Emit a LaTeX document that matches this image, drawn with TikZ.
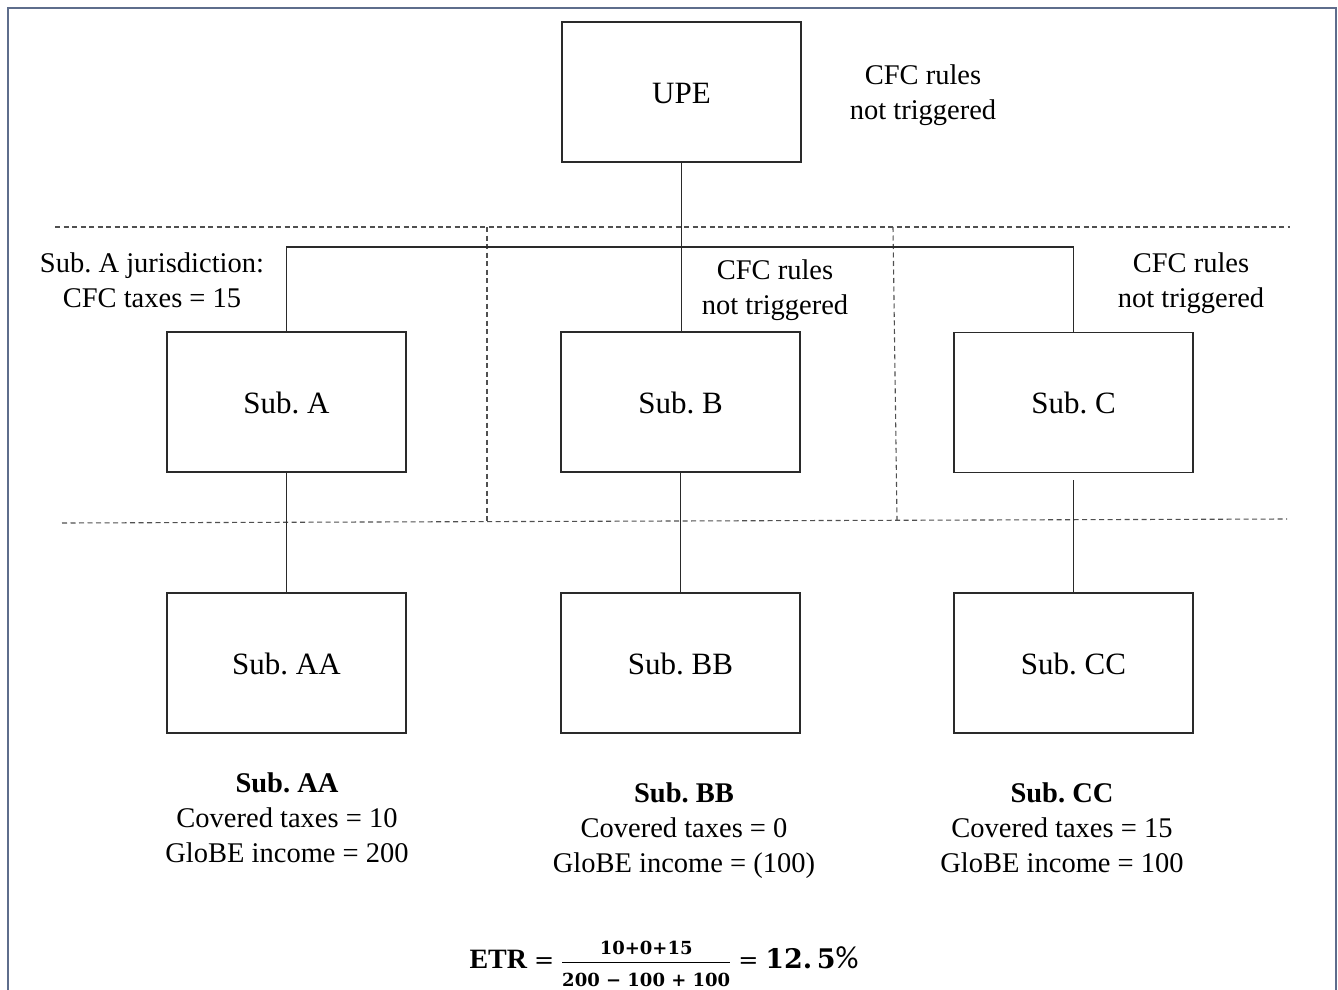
\documentclass[tikz,border=0pt]{standalone}
\usepackage{amsmath}
\usepackage{fontspec}
\setmainfont{Liberation Serif}
\newfontfamily\pctfont{Carlito}
\newfontfamily\numfont{DejaVu Serif}
\definecolor{framec}{HTML}{5E6D8C}
\definecolor{lnc}{HTML}{2A2A2A}
\definecolor{dashc}{HTML}{505050}
\tikzset{
  entity/.style={draw=lnc, line width=1.4pt, minimum width=239pt, minimum height=140pt,
    inner sep=0pt, text height=24.5pt, text depth=2pt, font=\fontsize{31}{36}\selectfont},
  conn/.style={draw=lnc, line width=1.4pt},
  divider/.style={draw=dashc, line width=1.1pt, dash pattern=on 5pt off 3.5pt},
  note/.style={align=center, inner sep=0pt, font=\fontsize{28.5}{35}\selectfont},
}
\newcommand{\fracnum}[1]{\mbox{\numfont\bfseries\fontsize{18}{20}\selectfont #1}}
\newcommand{\eqsign}{\mathrel{\mbox{\numfont\fontsize{24}{28}\selectfont =}}}
\begin{document}
\frenchspacing
\begin{tikzpicture}[x=1pt,y=-1pt]
\useasboundingbox (0,0) rectangle (1338,990);
% frame
\draw[framec, line width=2pt] (8,995) -- (8,8) -- (1336,8) -- (1336,995);

% dividers
\draw[divider] (55,227) -- (1290,227);
\draw[divider] (62,523) -- (1287,519);
\draw[divider] (487,227) -- (487,521);
\draw[divider] (893,227) -- (897,520);

% entities
\node[entity] (upe)  at (681.5,92)  {UPE};
\node[entity] (subA) at (286.5,402) {Sub. A};
\node[entity] (subB) at (680.5,402) {Sub. B};
\node[entity] (subC) at (1073.5,402.5) {Sub. C};
\node[entity] (subAA) at (286.5,663) {Sub. AA};
\node[entity] (subBB) at (680.5,663) {Sub. BB};
\node[entity] (subCC) at (1073.5,663) {Sub. CC};

% connectors
\coordinate (bus) at (681,247);
\draw[conn] (upe.south) -- (upe.south |- subB.north);
\draw[conn] (subA.north) |- (bus) -| (subC.north);
\draw[conn] (subA.south) -- (subAA.north);
\draw[conn] (subB.south) -- (subBB.north);
\draw[conn] ([yshift=-7pt]subC.south) -- (subCC.north);

% notes
\node[note] (nupe) at (923,95) {CFC rules\\not triggered};
\node[note] (nA) at (152,280) {Sub. A jurisdiction:\\CFC taxes = 15};
\node[note] (nB) at (775,290.5) {CFC rules\\not triggered};
\node[note] (nC) at (1191,283.5) {CFC rules\\not triggered};

\node[note] (dAA) at (287,818) {\textbf{Sub. AA}\\Covered taxes = 10\\GloBE income = 200};
\node[note] (dBB) at (684,831) {\textbf{Sub. BB}\\Covered taxes = 0\\GloBE income = (100)};
\node[note] (dCC) at (1062,828) {\textbf{Sub. CC}\\Covered taxes = 15\\GloBE income = 100};

% formula
\node[inner sep=0pt, anchor=base, font=\fontsize{28}{34}\selectfont] (etr) at (664,968.5)
  {$\mbox{\bfseries ETR} \eqsign \genfrac{}{}{1.5pt}{1}{\fracnum{10+0+15}\rule[-5.75pt]{0pt}{0pt}}{\fracnum{200 − 100 + 100}\rule{0pt}{21.5pt}} \eqsign \mbox{\numfont\bfseries\fontsize{27}{30}\selectfont 12.\,5}\mbox{\pctfont\fontsize{32}{34}\selectfont\%}$};
\end{tikzpicture}
\end{document}
